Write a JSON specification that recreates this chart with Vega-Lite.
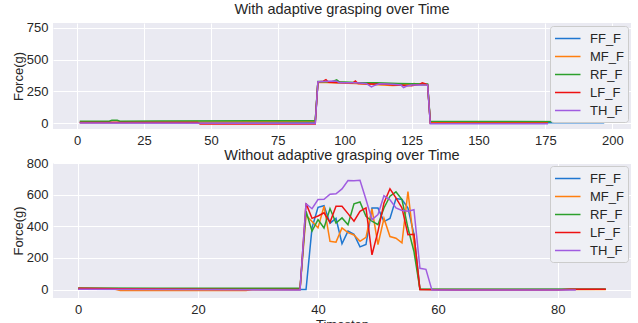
{
  "$schema": "https://vega.github.io/schema/vega-lite/v6.json",
  "background": "white",
  "padding": {"left": 12, "top": 2, "right": 5, "bottom": 0},
  "config": {
    "font": "Liberation Sans",
    "view": {"fill": "#eaeaf2", "stroke": null},
    "axis": {"grid": true, "gridColor": "white", "gridWidth": 1, "domain": false, "ticks": false, "labelFontSize": 13, "labelColor": "#262626", "titleFontSize": 13, "titleFontWeight": "normal", "titleColor": "#262626", "labelPadding": 5},
    "title": {"fontSize": 14.5, "fontWeight": "normal", "color": "#262626", "anchor": "middle", "frame": "group"},
    "legend": {"orient": "top-right", "offset": 3, "padding": 4, "fillColor": "#eff0f5", "strokeColor": "#cccccc", "cornerRadius": 3, "labelFontSize": 13, "labelColor": "#262626", "symbolType": "M-1,0H2.4", "symbolSize": 225, "symbolStrokeWidth": 1.5, "rowPadding": 2, "labelOffset": 19, "title": null},
    "concat": {"spacing": 0}
  },
  "datasets": {
    "with": [
      {"t":1,"s":"FF_F","f":5},{"t":89,"s":"FF_F","f":5},{"t":90,"s":"FF_F","f":325},{"t":95,"s":"FF_F","f":322},{"t":100,"s":"FF_F","f":318},{"t":105,"s":"FF_F","f":315},{"t":110,"s":"FF_F","f":312},{"t":115,"s":"FF_F","f":308},{"t":120,"s":"FF_F","f":305},{"t":125,"s":"FF_F","f":303},{"t":131,"s":"FF_F","f":300},{"t":132,"s":"FF_F","f":3},{"t":197,"s":"FF_F","f":3},
      {"t":1,"s":"MF_F","f":5},{"t":88,"s":"MF_F","f":12},{"t":89,"s":"MF_F","f":12},{"t":90,"s":"MF_F","f":322},{"t":96,"s":"MF_F","f":318},{"t":104,"s":"MF_F","f":312},{"t":110,"s":"MF_F","f":305},{"t":114,"s":"MF_F","f":300},{"t":118,"s":"MF_F","f":296},{"t":122,"s":"MF_F","f":300},{"t":126,"s":"MF_F","f":312},{"t":128,"s":"MF_F","f":305},{"t":131,"s":"MF_F","f":298},{"t":132,"s":"MF_F","f":5},{"t":176,"s":"MF_F","f":5},
      {"t":1,"s":"RF_F","f":14},{"t":12,"s":"RF_F","f":14},{"t":13,"s":"RF_F","f":22},{"t":15,"s":"RF_F","f":22},{"t":16,"s":"RF_F","f":14},{"t":30,"s":"RF_F","f":16},{"t":89,"s":"RF_F","f":18},{"t":90,"s":"RF_F","f":328},{"t":95,"s":"RF_F","f":325},{"t":97,"s":"RF_F","f":340},{"t":98,"s":"RF_F","f":325},{"t":104,"s":"RF_F","f":320},{"t":112,"s":"RF_F","f":318},{"t":120,"s":"RF_F","f":312},{"t":126,"s":"RF_F","f":310},{"t":131,"s":"RF_F","f":308},{"t":132,"s":"RF_F","f":14},{"t":150,"s":"RF_F","f":12},{"t":197,"s":"RF_F","f":10},
      {"t":1,"s":"LF_F","f":5},{"t":45,"s":"LF_F","f":5},{"t":46,"s":"LF_F","f":-8},{"t":89,"s":"LF_F","f":-8},{"t":90,"s":"LF_F","f":325},{"t":92,"s":"LF_F","f":330},{"t":93,"s":"LF_F","f":342},{"t":94,"s":"LF_F","f":322},{"t":100,"s":"LF_F","f":318},{"t":103,"s":"LF_F","f":315},{"t":104,"s":"LF_F","f":332},{"t":105,"s":"LF_F","f":312},{"t":110,"s":"LF_F","f":308},{"t":115,"s":"LF_F","f":305},{"t":118,"s":"LF_F","f":300},{"t":121,"s":"LF_F","f":298},{"t":125,"s":"LF_F","f":295},{"t":128,"s":"LF_F","f":305},{"t":129,"s":"LF_F","f":318},{"t":130,"s":"LF_F","f":310},{"t":131,"s":"LF_F","f":300},{"t":132,"s":"LF_F","f":-2},{"t":176,"s":"LF_F","f":-2},
      {"t":1,"s":"TH_F","f":0},{"t":89,"s":"TH_F","f":-3},{"t":90,"s":"TH_F","f":325},{"t":96,"s":"TH_F","f":332},{"t":97,"s":"TH_F","f":330},{"t":98,"s":"TH_F","f":318},{"t":104,"s":"TH_F","f":318},{"t":108,"s":"TH_F","f":312},{"t":110,"s":"TH_F","f":285},{"t":111,"s":"TH_F","f":295},{"t":113,"s":"TH_F","f":310},{"t":118,"s":"TH_F","f":305},{"t":121,"s":"TH_F","f":300},{"t":122,"s":"TH_F","f":280},{"t":123,"s":"TH_F","f":290},{"t":125,"s":"TH_F","f":300},{"t":131,"s":"TH_F","f":300},{"t":132,"s":"TH_F","f":-5},{"t":176,"s":"TH_F","f":-5}
    ],
    "without": [
      {"t":0,"s":"FF_F","f":2},{"t":38,"s":"FF_F","f":0},{"t":39,"s":"FF_F","f":390},{"t":40,"s":"FF_F","f":520},{"t":41,"s":"FF_F","f":530},{"t":42,"s":"FF_F","f":420},{"t":43,"s":"FF_F","f":450},{"t":44,"s":"FF_F","f":290},{"t":45,"s":"FF_F","f":370},{"t":46,"s":"FF_F","f":350},{"t":47,"s":"FF_F","f":270},{"t":48,"s":"FF_F","f":285},{"t":49,"s":"FF_F","f":515},{"t":50,"s":"FF_F","f":515},{"t":51,"s":"FF_F","f":430},{"t":52,"s":"FF_F","f":450},{"t":53,"s":"FF_F","f":575},{"t":54,"s":"FF_F","f":570},{"t":55,"s":"FF_F","f":515},{"t":56,"s":"FF_F","f":350},{"t":57,"s":"FF_F","f":0},{"t":88,"s":"FF_F","f":2},
      {"t":0,"s":"MF_F","f":3},{"t":6,"s":"MF_F","f":3},{"t":7,"s":"MF_F","f":-5},{"t":28,"s":"MF_F","f":-5},{"t":29,"s":"MF_F","f":0},{"t":37,"s":"MF_F","f":0},{"t":38,"s":"MF_F","f":470},{"t":39,"s":"MF_F","f":430},{"t":40,"s":"MF_F","f":390},{"t":41,"s":"MF_F","f":527},{"t":42,"s":"MF_F","f":305},{"t":43,"s":"MF_F","f":300},{"t":44,"s":"MF_F","f":390},{"t":45,"s":"MF_F","f":360},{"t":46,"s":"MF_F","f":345},{"t":47,"s":"MF_F","f":305},{"t":48,"s":"MF_F","f":330},{"t":49,"s":"MF_F","f":510},{"t":50,"s":"MF_F","f":285},{"t":51,"s":"MF_F","f":450},{"t":52,"s":"MF_F","f":335},{"t":53,"s":"MF_F","f":325},{"t":54,"s":"MF_F","f":295},{"t":55,"s":"MF_F","f":620},{"t":56,"s":"MF_F","f":295},{"t":57,"s":"MF_F","f":0},{"t":88,"s":"MF_F","f":0},
      {"t":0,"s":"RF_F","f":10},{"t":13,"s":"RF_F","f":8},{"t":37,"s":"RF_F","f":8},{"t":38,"s":"RF_F","f":495},{"t":39,"s":"RF_F","f":370},{"t":40,"s":"RF_F","f":442},{"t":41,"s":"RF_F","f":389},{"t":42,"s":"RF_F","f":512},{"t":43,"s":"RF_F","f":421},{"t":44,"s":"RF_F","f":453},{"t":45,"s":"RF_F","f":410},{"t":46,"s":"RF_F","f":542},{"t":47,"s":"RF_F","f":554},{"t":48,"s":"RF_F","f":463},{"t":49,"s":"RF_F","f":432},{"t":50,"s":"RF_F","f":410},{"t":51,"s":"RF_F","f":516},{"t":52,"s":"RF_F","f":590},{"t":53,"s":"RF_F","f":618},{"t":54,"s":"RF_F","f":569},{"t":55,"s":"RF_F","f":389},{"t":56,"s":"RF_F","f":241},{"t":57,"s":"RF_F","f":2},{"t":88,"s":"RF_F","f":3},
      {"t":0,"s":"LF_F","f":8},{"t":7,"s":"LF_F","f":5},{"t":28,"s":"LF_F","f":0},{"t":37,"s":"LF_F","f":0},{"t":38,"s":"LF_F","f":545},{"t":39,"s":"LF_F","f":450},{"t":40,"s":"LF_F","f":465},{"t":41,"s":"LF_F","f":485},{"t":42,"s":"LF_F","f":425},{"t":43,"s":"LF_F","f":527},{"t":44,"s":"LF_F","f":527},{"t":45,"s":"LF_F","f":480},{"t":46,"s":"LF_F","f":432},{"t":47,"s":"LF_F","f":495},{"t":48,"s":"LF_F","f":516},{"t":49,"s":"LF_F","f":220},{"t":50,"s":"LF_F","f":368},{"t":51,"s":"LF_F","f":548},{"t":52,"s":"LF_F","f":637},{"t":53,"s":"LF_F","f":580},{"t":54,"s":"LF_F","f":516},{"t":55,"s":"LF_F","f":347},{"t":56,"s":"LF_F","f":350},{"t":57,"s":"LF_F","f":0},{"t":63,"s":"LF_F","f":-3},{"t":80,"s":"LF_F","f":-3},{"t":82,"s":"LF_F","f":2},{"t":88,"s":"LF_F","f":2},
      {"t":0,"s":"TH_F","f":3},{"t":37,"s":"TH_F","f":-2},{"t":38,"s":"TH_F","f":543},{"t":39,"s":"TH_F","f":511},{"t":40,"s":"TH_F","f":569},{"t":41,"s":"TH_F","f":571},{"t":42,"s":"TH_F","f":603},{"t":43,"s":"TH_F","f":605},{"t":44,"s":"TH_F","f":636},{"t":45,"s":"TH_F","f":689},{"t":46,"s":"TH_F","f":688},{"t":47,"s":"TH_F","f":691},{"t":48,"s":"TH_F","f":569},{"t":49,"s":"TH_F","f":442},{"t":50,"s":"TH_F","f":474},{"t":51,"s":"TH_F","f":593},{"t":52,"s":"TH_F","f":568},{"t":53,"s":"TH_F","f":516},{"t":54,"s":"TH_F","f":500},{"t":55,"s":"TH_F","f":495},{"t":56,"s":"TH_F","f":505},{"t":57,"s":"TH_F","f":135},{"t":58,"s":"TH_F","f":128},{"t":59,"s":"TH_F","f":-3},{"t":83,"s":"TH_F","f":-3}
    ]
  },
  "vconcat": [
    {
      "title": {"text": "With adaptive grasping over Time", "offset": 4},
      "width": 578,
      "height": 106,
      "data": {"name": "with"},
      "mark": {"type": "line", "strokeWidth": 1.5, "clip": true},
      "encoding": {
        "x": {"field": "t", "type": "quantitative", "scale": {"domain": [-9, 207], "nice": false, "zero": false}, "axis": {"values": [0, 25, 50, 75, 100, 125, 150, 175, 200], "title": null}},
        "y": {"field": "f", "type": "quantitative", "scale": {"domain": [-47, 789], "nice": false}, "axis": {"values": [0, 250, 500, 750], "title": "Force(g)", "titlePadding": 1}},
        "color": {"field": "s", "type": "nominal", "scale": {"domain": ["FF_F", "MF_F", "RF_F", "LF_F", "TH_F"], "range": ["#1f77d0", "#ff7f0e", "#2ca02c", "#ee1111", "#a05ce0"]}}
      }
    },
    {
      "title": {"text": "Without adaptive grasping over Time", "offset": -6},
      "width": 578,
      "height": 135,
      "data": {"name": "without"},
      "mark": {"type": "line", "strokeWidth": 1.5, "clip": true},
      "encoding": {
        "x": {"field": "t", "type": "quantitative", "scale": {"domain": [-4.2, 92.2], "nice": false, "zero": false}, "axis": {"values": [0, 20, 40, 60, 80], "title": "Timestep", "titlePadding": 2}},
        "y": {"field": "f", "type": "quantitative", "scale": {"domain": [-53, 800], "nice": false}, "axis": {"values": [0, 200, 400, 600, 800], "title": "Force(g)", "titlePadding": 1}},
        "color": {"field": "s", "type": "nominal", "scale": {"domain": ["FF_F", "MF_F", "RF_F", "LF_F", "TH_F"], "range": ["#1f77d0", "#ff7f0e", "#2ca02c", "#ee1111", "#a05ce0"]}}
      }
    }
  ],
  "resolve": {"scale": {"color": "independent"}, "legend": {"color": "independent"}}
}
